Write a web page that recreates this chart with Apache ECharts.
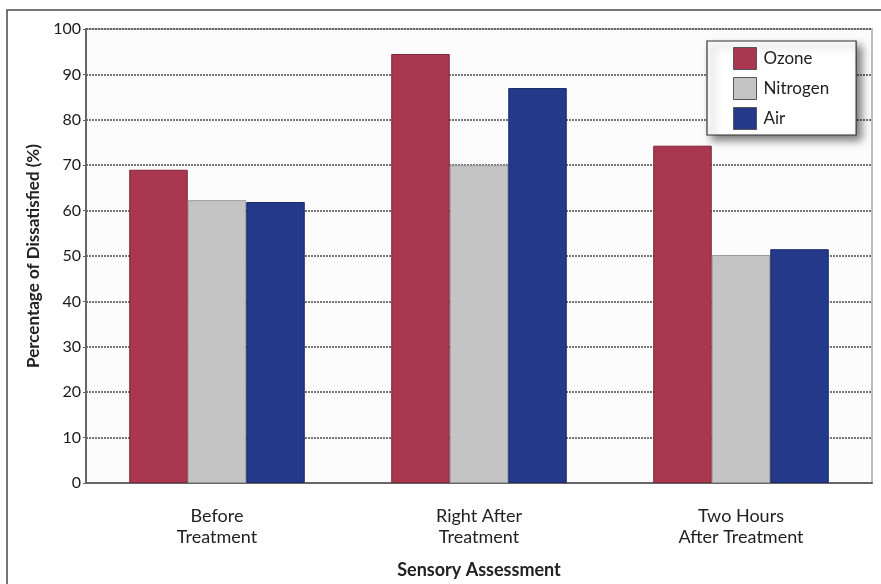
<!DOCTYPE html>
<html>
<head>
<meta charset="utf-8">
<script src="https://cdn.jsdelivr.net/npm/echarts@6/dist/echarts.min.js"></script>
<style>
  html, body { margin: 0; padding: 0; background: #ffffff; }
  #chart { width: 881px; height: 584px; }
</style>
</head>
<body>
<div id="chart"></div>
<script>
// Sensory assessment categories and percentage of dissatisfied panelists per gas
const categories = ['Before\nTreatment', 'Right After\nTreatment', 'Two Hours\nAfter Treatment'];
const ozone = [69, 94.5, 74.3];
const nitrogen = [62.3, 70, 50.2];
const air = [61.9, 87, 51.5];
const yTicks = { min: 0, max: 100, interval: 10 };

const FONT = 'Lato, "Open Sans", sans-serif';

const chart = echarts.init(document.getElementById('chart'), null, { renderer: 'canvas' });

function barSeries(name, data, color, edge) {
  return {
    name: name,
    type: 'bar',
    data: data,
    barGap: '0%',
    barCategoryGap: '33%',
    itemStyle: { color: color, borderColor: edge, borderWidth: 1 }
  };
}

chart.setOption({
  animation: false,
  backgroundColor: '#ffffff',
  textStyle: { fontFamily: FONT },
  graphic: [
    {
      type: 'rect',
      shape: { x: 7, y: 10, width: 900, height: 600 },
      style: { fill: 'none', stroke: '#4a4a4a', lineWidth: 1.5 },
      silent: true,
      z: -10
    }
  ],
  grid: {
    left: 86, right: 9, top: 29, bottom: 101,
    show: true,
    backgroundColor: '#fcfcfc',
    borderColor: '#a8a8a8',
    borderWidth: 1.5
  },
  legend: {
    orient: 'vertical',
    left: 707,
    top: 41,
    padding: [6, 27, 5, 26],
    icon: 'rect',
    itemWidth: 23,
    itemHeight: 22,
    itemGap: 7,
    backgroundColor: '#ffffff',
    borderColor: '#333333',
    borderWidth: 1.2,
    shadowColor: 'rgba(0,0,0,0.5)',
    shadowBlur: 8,
    shadowOffsetX: 5,
    shadowOffsetY: 5,
    textStyle: { fontFamily: FONT, fontSize: 17, color: '#222', padding: [0, 0, 0, 2] },
    data: [
      { name: 'Ozone', itemStyle: { borderColor: '#555', borderWidth: 1 } },
      { name: 'Nitrogen', itemStyle: { borderColor: '#555', borderWidth: 1 } },
      { name: 'Air', itemStyle: { borderColor: '#555', borderWidth: 1 } }
    ]
  },
  xAxis: {
    type: 'category',
    data: categories,
    name: 'Sensory Assessment',
    nameLocation: 'middle',
    nameGap: 78,
    nameTextStyle: { fontFamily: FONT, fontSize: 18, fontWeight: 'bold', color: '#222' },
    axisLine: { lineStyle: { color: '#666', width: 2 } },
    axisTick: { show: false },
    axisLabel: { fontFamily: FONT, fontSize: 18, color: '#222', margin: 23, lineHeight: 21 }
  },
  yAxis: {
    type: 'value',
    min: yTicks.min,
    max: yTicks.max,
    interval: yTicks.interval,
    name: 'Percentage of Dissatisfied (%)',
    nameLocation: 'middle',
    nameGap: 44,
    nameTextStyle: { fontFamily: FONT, fontSize: 17, fontWeight: 'bold', color: '#222' },
    axisLine: { show: true, lineStyle: { color: '#666', width: 2 } },
    axisTick: { show: true, length: 3, lineStyle: { color: '#666' } },
    axisLabel: { fontFamily: FONT, fontSize: 16, color: '#1a1a1a', margin: 5 },
    splitLine: { lineStyle: { color: '#4f4848', width: 1.5, type: [2, 1] } }
  },
  series: [
    barSeries('Ozone', ozone, '#a8374f', '#7d2638'),
    barSeries('Nitrogen', nitrogen, '#c4c4c4', '#9a9a9a'),
    barSeries('Air', air, '#24398a', '#1a2a6a')
  ]
});
</script>
</body>
</html>
